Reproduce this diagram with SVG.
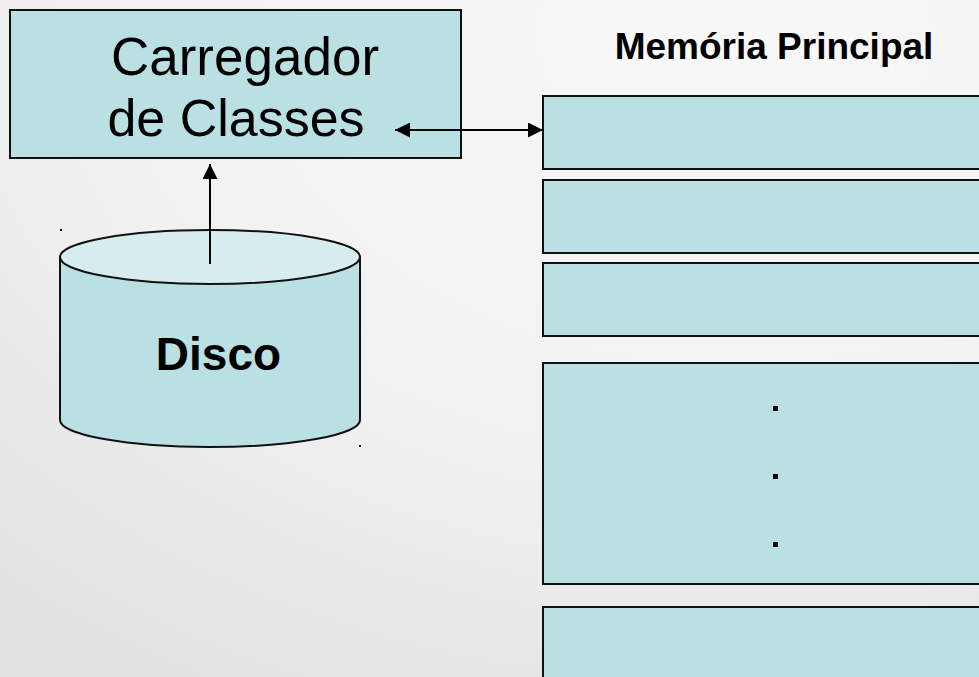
<svg xmlns="http://www.w3.org/2000/svg" width="979" height="677" viewBox="0 0 979 677">
<defs>
<radialGradient id="bg" cx="0.75" cy="0.05" r="1.1">
<stop offset="0" stop-color="#f8f8f8"/>
<stop offset="0.6" stop-color="#f1f1f1"/>
<stop offset="1" stop-color="#e2e2e2"/>
</radialGradient>
<marker id="ah" viewBox="0 0 10 10" refX="10" refY="5" markerWidth="15" markerHeight="15" markerUnits="userSpaceOnUse" orient="auto-start-reverse">
<path d="M0,0 L10,5 L0,10 Z" fill="#000"/>
</marker>
<style>
.box{fill:#bbe0e3;stroke:#111;stroke-width:2}
.t{font-family:"Liberation Sans",Arial,sans-serif;fill:#000}
.conn{stroke:#000;stroke-width:2;fill:none}
</style>
</defs>
<rect width="979" height="677" fill="url(#bg)"/>
<g id="carregador">
<rect class="box" x="10" y="10" width="451" height="148"/>
<text class="t" x="245" y="75" font-size="53" text-anchor="middle">Carregador</text>
<text class="t" x="236" y="136" font-size="52" text-anchor="middle">de Classes</text>
</g>
<g id="disco">
<path class="box" d="M60,257 L60,420 A150,27 0 0 0 360,420 L360,257"/>
<ellipse cx="210" cy="257" rx="150" ry="27" fill="#d6ecee" stroke="#111" stroke-width="2"/>
<text class="t" x="218.5" y="370" font-size="46" font-weight="bold" text-anchor="middle">Disco</text>
<rect x="60" y="229" width="2" height="2" fill="#000"/>
<rect x="359" y="445" width="2" height="2" fill="#000"/>
</g>
<g id="memoria">
<text class="t" x="774" y="59" font-size="37" font-weight="bold" text-anchor="middle">Memória Principal</text>
<rect class="box" x="543" y="96" width="450" height="73"/>
<rect class="box" x="543" y="180" width="450" height="73"/>
<rect class="box" x="543" y="263" width="450" height="73"/>
<rect class="box" x="543" y="363" width="450" height="221"/>
<rect class="box" x="543" y="607" width="450" height="100"/>
<rect x="773" y="406" width="5" height="5" fill="#000"/>
<rect x="773" y="474" width="5" height="5" fill="#000"/>
<rect x="773" y="542" width="5" height="5" fill="#000"/>
</g>
<g id="connectors">
<line class="conn" x1="395" y1="130" x2="543" y2="130" marker-start="url(#ah)" marker-end="url(#ah)"/>
<line class="conn" x1="210" y1="264" x2="210" y2="164" marker-end="url(#ah)"/>
</g>
</svg>
